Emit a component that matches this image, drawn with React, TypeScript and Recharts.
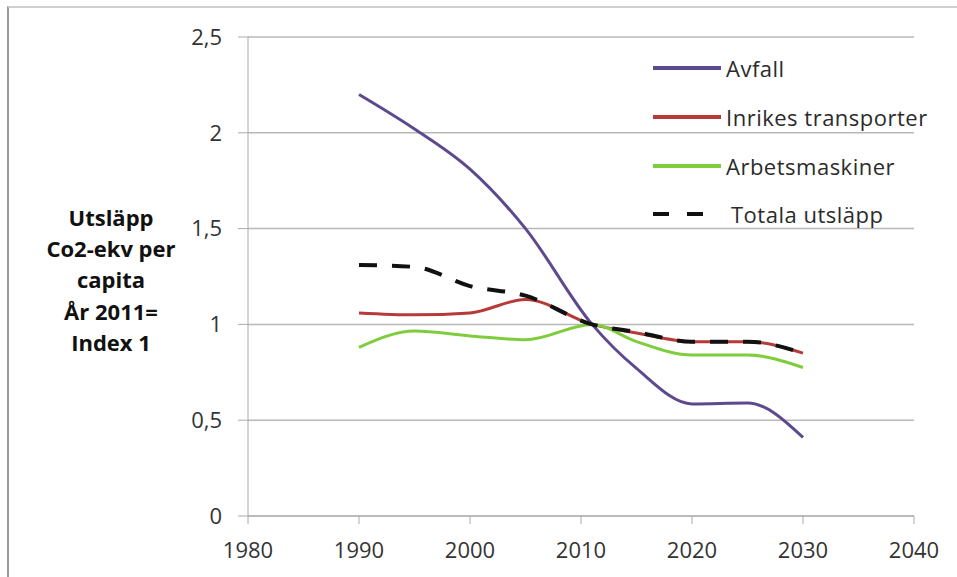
import { CartesianGrid, Line, LineChart, XAxis, YAxis } from "recharts";

const years = [1990, 1995, 2000, 2005, 2011, 2015, 2020, 2025, 2030];
const avfall = [2.2, 2.02, 1.81, 1.5, 1.0, 0.77, 0.585, 0.59, 0.41];
const inrikes = [1.06, 1.05, 1.06, 1.13, 1.0, 0.955, 0.91, 0.91, 0.85];
const arbets = [0.88, 0.965, 0.94, 0.92, 1.0, 0.91, 0.84, 0.84, 0.775];
const totala = [1.31, 1.3, 1.2, 1.15, 1.0, 0.96, 0.91, 0.91, 0.85];

const xTicks = [1980, 1990, 2000, 2010, 2020, 2030, 2040];
const yTicks = [0, 0.5, 1, 1.5, 2, 2.5];
const yLabelLines = ["Utsläpp", "Co2-ekv per", "capita", "År 2011=", "Index 1"];

const series = [
  { key: "avfall", name: "Avfall", color: "#5d4a8e", dash: undefined },
  { key: "inrikes", name: "Inrikes transporter", color: "#b63a37", dash: undefined },
  { key: "arbets", name: "Arbetsmaskiner", color: "#7fcd3c", dash: undefined },
  { key: "totala", name: "Totala utsläpp", color: "#111111", dash: "18 15" },
];

const data = years.map((year, i) => ({
  year,
  avfall: avfall[i],
  inrikes: inrikes[i],
  arbets: arbets[i],
  totala: totala[i],
}));

const font = "'Open Sans', Lato, sans-serif";

function LegendBox() {
  return (
    <div
      style={{
        position: "absolute",
        left: 653,
        top: 44,
        fontFamily: font,
        fontSize: 22,
        letterSpacing: 0.5,
        color: "#2b2b2b",
        lineHeight: 1,
      }}
    >
      {series.map((s) => (
        <div key={s.key} style={{ display: "flex", alignItems: "center", height: 48.7 }}>
          <svg width={73} height={10}>
            <line x1={0} y1={5} x2={68} y2={5} stroke={s.color} strokeWidth={4} strokeDasharray={s.dash ? "16 18" : undefined} />
          </svg>
          <span style={{ marginLeft: s.dash ? 5 : 0 }}>{s.name}</span>
        </div>
      ))}
    </div>
  );
}

function YLabel() {
  return (
    <text x={111} y={218} textAnchor="middle" fontFamily={font} fontWeight="bold" fontSize={22} fill="#111">
      {yLabelLines.map((line, i) => (
        <tspan key={line} x={111} y={218 + i * 31.3} dy="0.35em">
          {line}
        </tspan>
      ))}
    </text>
  );
}

export default function App() {
  return (
    <div
      style={{
        position: "absolute",
        left: 0,
        top: 0,
        width: 957,
        height: 577,
        background: "#fff",
      }}
    >
      <div style={{ position: "absolute", left: 7, top: 6, right: 0, bottom: 0, borderLeft: "2px solid #9a9a9a", borderTop: "2px solid #d0d0d0" }} />
      <LineChart width={957} height={577} data={data} margin={{ top: 37, right: 43, bottom: 21, left: 0 }}>
        <CartesianGrid vertical={false} stroke="#b8b8b8" strokeWidth={1.5} />
        <XAxis
          dataKey="year"
          type="number"
          domain={[1980, 2040]}
          ticks={xTicks}
          height={40}
          tickSize={8}
          tickMargin={18}
          stroke="#aaa"
          tick={{ fill: "#333", fontSize: 22, fontFamily: font }}
        />
        <YAxis
          domain={[0, 2.5]}
          ticks={yTicks}
          width={248}
          tickSize={10}
          tickMargin={16}
          stroke="#aaa"
          tickFormatter={(v: number) => String(v).replace(".", ",")}
          tick={{ fill: "#333", fontSize: 22, fontFamily: font }}
          label={<YLabel />}
        />
        {series.map((s) => (
          <Line
            key={s.key}
            type="monotone"
            dataKey={s.key}
            name={s.name}
            stroke={s.color}
            strokeWidth={s.dash ? 4 : 3}
            strokeDasharray={s.dash}
            dot={false}
            isAnimationActive={false}
          />
        ))}
      </LineChart>
      <LegendBox />
    </div>
  );
}
